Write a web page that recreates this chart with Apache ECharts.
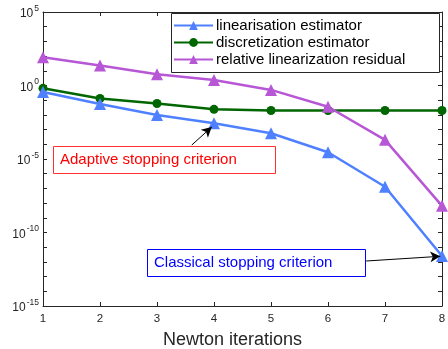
<!DOCTYPE html>
<html><head><meta charset="utf-8">
<script src="https://cdn.jsdelivr.net/npm/echarts@6/dist/echarts.min.js"></script>
<style>html,body{margin:0;padding:0;background:#fff}#c{width:448px;height:349px}</style>
</head><body><div id="c"></div>
<script>
const iterations = [1, 2, 3, 4, 5, 6, 7, 8];
const linearisationEstimator = [0.36, 0.056, 0.01, 0.0027, 5.6e-4, 2.9e-5, 1.3e-7, 2.5e-12];
const discretizationEstimator = [0.64, 0.13, 0.06, 0.024, 0.02, 0.02, 0.02, 0.02];
const relativeResidual = [83, 23, 5.8, 2.4, 0.5, 0.036, 2e-4, 6.5e-9];
const seriesNames = ['linearisation estimator', 'discretization estimator', 'relative linearization residual'];
const yExtent = [1e-15, 1e5];
const xExtent = [1, 8];
const adaptiveArrow = [[3.61, 8.9e-5], [3.96, 1.5e-3]];
const classicalArrow = [[6.67, 1.15e-12], [7.97, 2.4e-12]];

const font = 'Liberation Sans, Arial, Helvetica, sans-serif';
const axisColor = '#262626';
const colors = ['#4F80FF', '#006600', '#B857D6'];

function pairs(ys) { return iterations.map((x, i) => [x, ys[i]]); }

const ylab = {
  formatter: function (v) {
    const e = Math.round(Math.log10(v));
    if (e % 5 !== 0) return '';
    return '{b|10}{s|' + e + '}';
  },
  rich: {
    b: { fontSize: 12, color: axisColor, fontFamily: font, padding: [4, 0, 0, 0] },
    s: { fontSize: 8.5, color: axisColor, fontFamily: font, verticalAlign: 'top', padding: [0, 0, 6, 1] }
  },
  margin: 4
};

const commonY = {
  type: 'log', logBase: 10, min: yExtent[0], max: yExtent[1], interval: 1,
  axisLine: { show: true, lineStyle: { color: axisColor, width: 1 } },
  axisTick: { show: true, inside: true, length: 4, lineStyle: { color: axisColor } },
  minorTick: { show: false },
  splitLine: { show: false }
};
const commonX = {
  type: 'value', min: xExtent[0], max: xExtent[1], interval: 1,
  axisLine: { show: true, onZero: false, lineStyle: { color: axisColor, width: 1 } },
  axisTick: { show: true, inside: true, length: 4, lineStyle: { color: axisColor } },
  splitLine: { show: false }
};

const chart = echarts.init(document.getElementById('c'));
chart.setOption({
  animation: false,
  backgroundColor: '#fff',
  grid: { left: 43, top: 12, right: 6, bottom: 43, containLabel: false, outerBoundsMode: 'none' },
  xAxis: [
    Object.assign({}, commonX, {
      position: 'bottom',
      name: 'Newton iterations', nameLocation: 'middle', nameGap: 25,
      nameTextStyle: { fontSize: 18, color: axisColor, fontFamily: font, padding: [0, 20, 0, 0] },
      axisLabel: { fontSize: 11.5, color: axisColor, fontFamily: font, margin: 7 }
    }),
    Object.assign({}, commonX, { position: 'top', axisLabel: { show: false } })
  ],
  yAxis: [
    Object.assign({}, commonY, { position: 'left', axisLabel: ylab }),
    Object.assign({}, commonY, { position: 'right', axisLabel: { show: false } })
  ],
  legend: {
    orient: 'vertical', left: 173, top: 18, padding: 0, itemWidth: 39, itemHeight: 11, itemGap: 2,
    textStyle: { fontSize: 15, color: '#000', fontFamily: font, padding: [0, 0, 0, -2] },
    data: seriesNames
  },
  series: [
    {
      name: seriesNames[0], type: 'line', data: pairs(linearisationEstimator),
      symbol: 'triangle', symbolSize: 12, color: colors[0],
      lineStyle: { width: 2.5 }, itemStyle: { color: colors[0] },
      markLine: {
        silent: true, symbol: ['none', 'arrow'], symbolSize: [8, 10],
        label: { show: false }, lineStyle: { color: '#000', width: 1, type: 'solid' },
        data: [
          [{ coord: adaptiveArrow[0] }, { coord: adaptiveArrow[1] }],
          [{ coord: classicalArrow[0] }, { coord: classicalArrow[1] }]
        ]
      },
      z: 3
    },
    {
      name: seriesNames[1], type: 'line', data: pairs(discretizationEstimator),
      symbol: 'circle', symbolSize: 9, color: colors[1],
      lineStyle: { width: 2.5 }, itemStyle: { color: colors[1] }, z: 2
    },
    {
      name: seriesNames[2], type: 'line', data: pairs(relativeResidual),
      symbol: 'triangle', symbolSize: 12, color: colors[2],
      lineStyle: { width: 2.5 }, itemStyle: { color: colors[2] }, z: 2
    }
  ],
  graphic: [
    { type: 'rect', left: 171, top: 13, shape: { width: 268, height: 59 },
      style: { fill: '#fff', stroke: '#262626', lineWidth: 1 }, z: 4 },
    { type: 'rect', left: 53, top: 146, shape: { width: 222, height: 27 },
      style: { fill: '#fff', stroke: '#FF3030', lineWidth: 1 }, z: 4 },
    { type: 'text', left: 60, top: 152, z: 5,
      style: { text: 'Adaptive stopping criterion', fill: '#FF0000', font: '15px ' + font } },
    { type: 'rect', left: 147, top: 249, shape: { width: 218, height: 27 },
      style: { fill: '#fff', stroke: '#0000FF', lineWidth: 1 }, z: 4 },
    { type: 'text', left: 154, top: 255, z: 5,
      style: { text: 'Classical stopping criterion', fill: '#0000FF', font: '15px ' + font } }
  ]
});
</script></body></html>
